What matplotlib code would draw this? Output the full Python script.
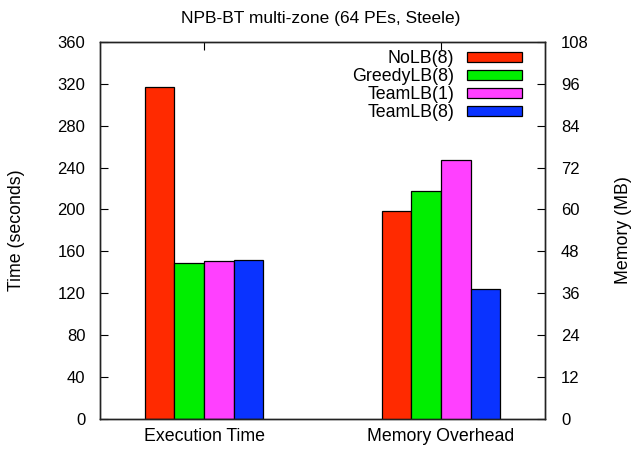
import matplotlib
matplotlib.use("Agg")
import matplotlib.pyplot as plt
import numpy as np
from matplotlib.patches import Patch

plt.rcParams['font.family'] = ['Liberation Sans', 'DejaVu Sans']

categories = ["Execution Time", "Memory Overhead"]
series = ["NoLB(8)", "GreedyLB(8)", "TeamLB(1)", "TeamLB(8)"]
exec_time = [317, 149, 151, 152]          # seconds
memory_mb = [59.5, 65.4, 74.1, 37.2]      # MB
colors = ["#ff2a00", "#00ee00", "#ff40ff", "#0a33ff"]
time_ticks = list(range(0, 361, 40))
mem_ticks = list(range(0, 109, 12))

fs_tick = 12
fs_lab = 12.8
fig = plt.figure(figsize=(6.41, 4.49), dpi=100)
ax = fig.add_axes([100/641, 1-418.7/449, 445/641, 376.7/449])
ax2 = ax.twinx()

w = 0.125
n = len(series)
for i, s in enumerate(series):
    off = (i - (n - 1) / 2) * w
    ax.bar(0 + off, exec_time[i], width=w, color=colors[i], edgecolor='black', linewidth=0.9, zorder=2)
    ax2.bar(1 + off, memory_mb[i], width=w, color=colors[i], edgecolor='black', linewidth=0.9, zorder=2)

ax.set_xlim(-0.439, 1.439)
ax.set_ylim(0, 360)
ax2.set_ylim(0, 108)
ax.set_yticks(time_ticks)
ax2.set_yticks(mem_ticks)
ax.set_xticks([0, 1])
ax.set_xticklabels(categories, fontsize=fs_lab)
ax.set_axisbelow(True)

ax.tick_params(axis='y', direction='in', length=6, width=0.8, labelsize=fs_tick, pad=10.5)
ax.tick_params(axis='x', direction='in', length=6, width=0.8, pad=7, top=True)
ax2.tick_params(axis='y', direction='in', length=6, width=0.8, labelsize=fs_tick, pad=11.5)

for a in (ax, ax2):
    for sp in a.spines.values():
        sp.set_linewidth(1.0)
        sp.set_color('#222222')

ax.set_ylabel("Time (seconds)", fontsize=fs_lab)
ax2.set_ylabel("Memory (MB)", fontsize=fs_lab, rotation=90)
ax.yaxis.set_label_coords(-0.168, 0.5)
ax2.yaxis.set_label_coords(1.157, 0.5)
fig.text(0.5, 1 - 18/449, "NPB-BT multi-zone (64 PEs, Steele)", ha='center', va='center', fontsize=12.5)

handles = [Patch(facecolor=c, edgecolor='black', linewidth=0.9) for c in colors]
leg = ax2.legend(handles, series, loc='upper right', bbox_to_anchor=(0.948, 0.978),
                 frameon=False, markerfirst=False, fontsize=fs_lab, handlelength=3.1,
                 handleheight=0.5, labelspacing=0.06, handletextpad=0.7,
                 borderpad=0, borderaxespad=0)

fig.savefig("out.png", dpi=100)
